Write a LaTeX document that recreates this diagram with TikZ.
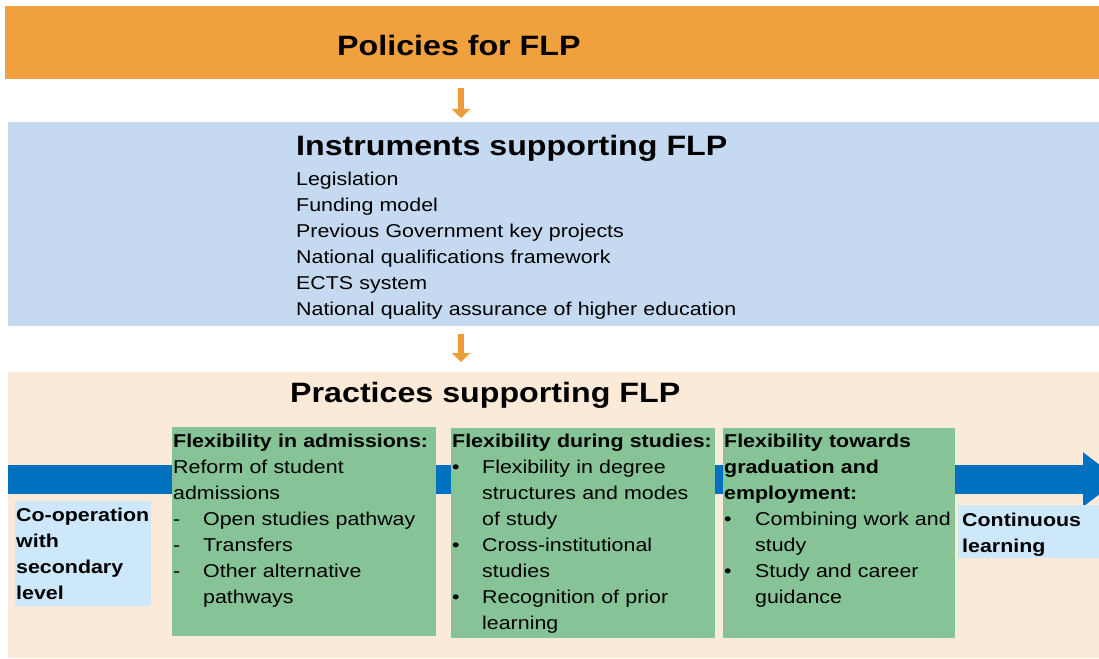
\documentclass[tikz,border=0pt]{standalone}
\usepackage{fontspec}
\setmainfont{Liberation Sans}[FakeStretch=1.15]
\usetikzlibrary{arrows.meta}
\definecolor{orangeband}{RGB}{240,160,60}
\definecolor{orangearr}{RGB}{238,155,58}
\definecolor{blueband}{RGB}{197,218,240}
\definecolor{peach}{RGB}{252,234,217}
\definecolor{greenbox}{RGB}{134,196,151}
\definecolor{darkblue}{RGB}{0,112,192}
\definecolor{lightbox}{RGB}{204,232,250}
\begin{document}
\begin{tikzpicture}[x=1pt,y=-1pt,
  box/.style={draw=none, inner sep=0, anchor=north west},
  title/.style={anchor=base west, inner sep=0, font=\fontsize{28}{33}\selectfont\bfseries},
  txt/.style={anchor=base west, inner sep=0, align=left, font=\fontsize{18.6}{26}\selectfont},
  oarrow/.style={draw=orangearr, line width=6pt, -{Triangle[width=18pt,length=9pt]}},
  barrow/.style={draw=darkblue, line width=29pt, -{Triangle[width=52pt,length=36pt]}}]
\useasboundingbox (0,0) rectangle (1099,658);
\fill[white] (0,0) rectangle (1099,658);

% bands
\node[box, fill=orangeband, minimum width=1094pt, minimum height=73pt] (pol) at (5,6) {};
\node[box, fill=blueband, minimum width=1091pt, minimum height=204pt] (ins) at (8,122) {};
\node[box, fill=peach, minimum width=1091pt, minimum height=286pt] (pra) at (8,372) {};

% titles
\node[title] (polt) at (337,56) {Policies for FLP};
\node[title] (inst) at (296,155) {Instruments supporting FLP};
\node[txt, text width=560pt] (insl) at (296,185) {Legislation\\Funding model\\Previous Government key projects\\National qualifications framework\\ECTS system\\National quality assurance of higher education};
\node[title] (prat) at (290,402) {Practices supporting FLP};

% orange arrows
\coordinate (ax) at (461,0);
\draw[oarrow] ([yshift=-9pt]ax |- pol.south) -- ([yshift=4pt]ax |- ins.north);
\draw[oarrow] ([yshift=-8pt]ax |- ins.south) -- ([yshift=10pt]ax |- pra.north);

% big blue arrow
\coordinate (bs) at (8,479.5);
\coordinate (be) at (1119,479.5);
\draw[barrow] (bs) -- (be);

% boxes
\node[box, fill=lightbox, minimum width=136pt, minimum height=105pt] (coop) at (15,501) {};
\node[box, fill=greenbox, minimum width=264pt, minimum height=209pt] (g1) at (172,427) {};
\node[box, fill=greenbox, minimum width=264pt, minimum height=210pt] (g2) at (451,428) {};
\node[box, fill=greenbox, minimum width=232pt, minimum height=210pt] (g3) at (723,428) {};
\node[box, fill=lightbox, minimum width=141pt, minimum height=53pt] (cont) at (958,505) {};

% box texts
\node[txt, text width=134pt, font=\fontsize{18.6}{26}\selectfont\bfseries] (coopt) at ([xshift=1pt,yshift=-20pt]coop.north west) {Co-operation\\with\\secondary\\level};
\node[txt, text width=262pt] (g1t) at ([xshift=1pt,yshift=-20pt]g1.north west) {\textbf{Flexibility in admissions:}\\Reform of student\\admissions\\\makebox[30pt][l]{-}Open studies pathway\\\makebox[30pt][l]{-}Transfers\\\makebox[30pt][l]{-}Other alternative\\\hspace*{30pt}pathways};
\node[txt, text width=262pt] (g2t) at ([xshift=1pt,yshift=-19pt]g2.north west) {\textbf{Flexibility during studies:}\\\makebox[30pt][l]{•}Flexibility in degree\\\hspace*{30pt}structures and modes\\\hspace*{30pt}of study\\\makebox[30pt][l]{•}Cross-institutional\\\hspace*{30pt}studies\\\makebox[30pt][l]{•}Recognition of prior\\\hspace*{30pt}learning};
\node[txt, text width=230pt] (g3t) at ([xshift=1pt,yshift=-19pt]g3.north west) {\textbf{Flexibility towards}\\\textbf{graduation and}\\\textbf{employment:}\\\makebox[31pt][l]{•}Combining work and\\\hspace*{31pt}study\\\makebox[31pt][l]{•}Study and career\\\hspace*{31pt}guidance};
\node[txt, text width=138pt, font=\fontsize{18.6}{26}\selectfont\bfseries] (contt) at ([xshift=4pt,yshift=-21pt]cont.north west) {Continuous\\learning};
\end{tikzpicture}
\end{document}
